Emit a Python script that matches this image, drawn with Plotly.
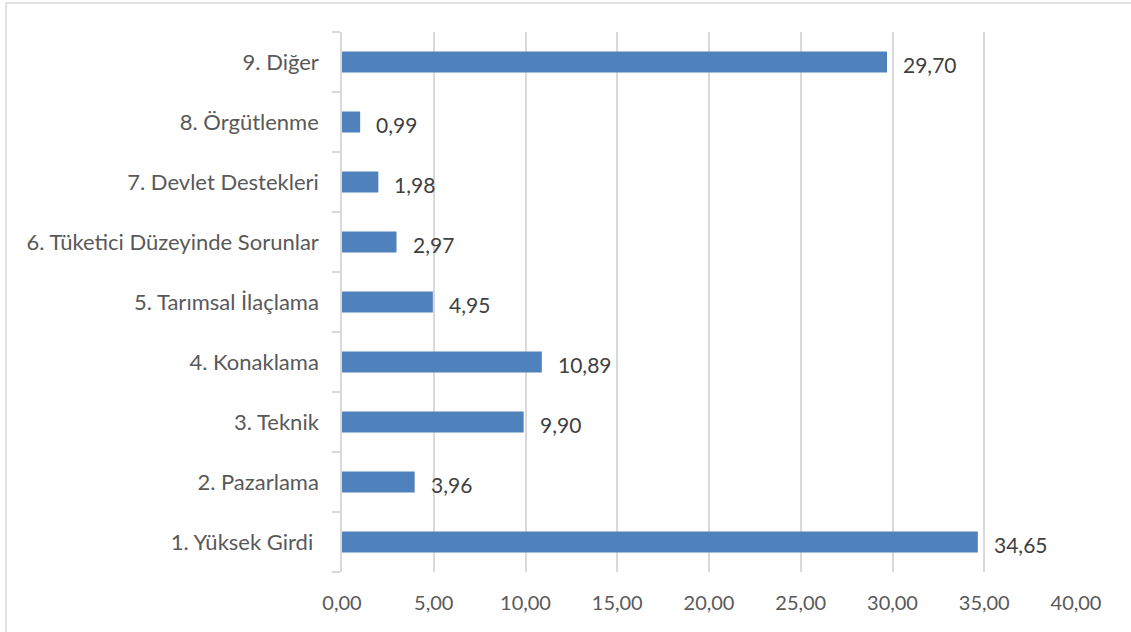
import plotly.graph_objects as go

# Survey categories (bottom to top) and their shares in percent
categories = [
    "1. Yüksek Girdi ",
    "2. Pazarlama",
    "3. Teknik",
    "4. Konaklama",
    "5. Tarımsal İlaçlama",
    "6. Tüketici Düzeyinde Sorunlar",
    "7. Devlet Destekleri",
    "8. Örgütlenme",
    "9. Diğer",
]
values = [34.65, 3.96, 9.90, 10.89, 4.95, 2.97, 1.98, 0.99, 29.70]
x_ticks = [0, 5, 10, 15, 20, 25, 30, 35, 40]

FONT = "Lato"
BAR = "#4F81BD"
GRID = "#D9D9D9"

W, H = 1131, 632
ML, MR, MT, MB = 342, 55, 32, 60
PW, PH = W - ML - MR, H - MT - MB

fig = go.Figure()
fig.add_trace(go.Bar(
    y=categories,
    x=values,
    orientation="h",
    marker=dict(color=BAR, line=dict(width=0)),
    hoverinfo="skip",
))

# value labels to the right of each bar
for cat, v in zip(categories, values):
    fig.add_annotation(
        x=v, y=cat, xref="x", yref="y",
        text=f"{v:.2f}".replace(".", ","),
        showarrow=False, xanchor="left", yanchor="middle",
        xshift=14, yshift=-2,
        font=dict(family=FONT, size=21, color="#404040"),
    )

# outer chart frame
fig.add_shape(
    type="rect", xref="paper", yref="paper",
    x0=(6 - ML) / PW, x1=(W + 10 - ML) / PW,
    y0=-(H + 10 - (H - MB)) / PH, y1=(H - MB - 3) / PH,
    line=dict(color=GRID, width=1.5), fillcolor="rgba(0,0,0,0)",
    layer="below",
)

fig.update_layout(
    width=W, height=H,
    margin=dict(l=ML, r=MR, t=MT, b=MB),
    paper_bgcolor="white", plot_bgcolor="white",
    separators=",.",
    bargap=0.65,
    showlegend=False,
    font=dict(family=FONT, size=20, color="#595959"),
    xaxis=dict(
        range=[0, 40],
        tickvals=x_ticks,
        tickformat=".2f",
        showgrid=True, gridcolor=GRID, gridwidth=1.5,
        zeroline=False, showline=False, ticks="",
        ticklabelstandoff=17,
        tickfont=dict(family=FONT, size=20, color="#595959"),
        fixedrange=True,
    ),
    yaxis=dict(
        type="category",
        categoryorder="array", categoryarray=categories,
        showgrid=False, zeroline=False,
        showline=True, linecolor=GRID, linewidth=1.5,
        ticks="outside", tickson="boundaries", ticklen=8, tickcolor=GRID, tickwidth=1.5,
        ticklabelstandoff=17,
        tickfont=dict(family=FONT, size=22, color="#595959"),
        fixedrange=True,
    ),
)

fig.write_html("out.html", config={"displayModeBar": False})
